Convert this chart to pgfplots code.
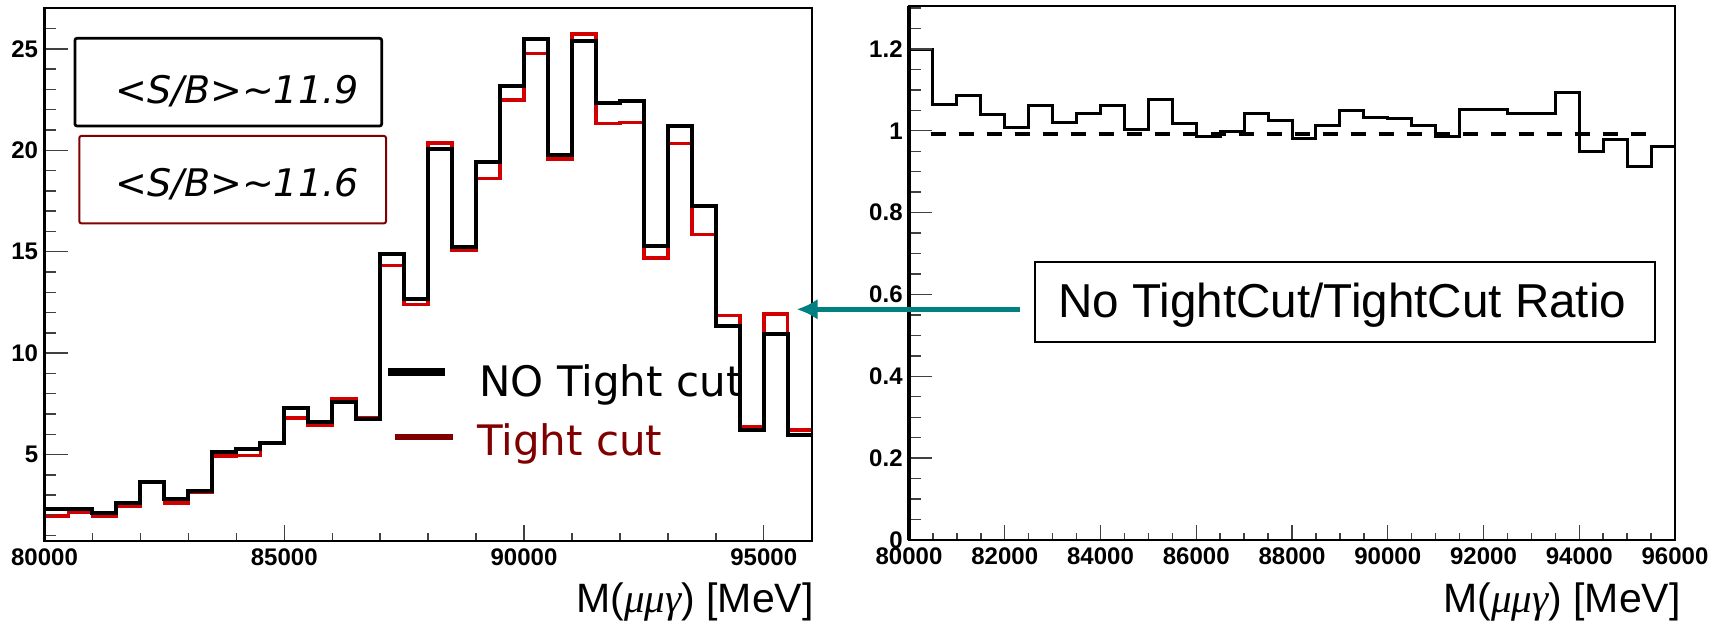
\documentclass[border=0pt]{standalone}
\usepackage{fontspec}
\setmainfont{Liberation Sans}
\newfontfamily\legfont{DejaVu Sans}
\newfontfamily\greekfont{Liberation Serif}
\usepackage{pgfplots}
\pgfplotsset{compat=1.18}
\usetikzlibrary{arrows.meta}
\definecolor{histred}{RGB}{210,0,0}
\definecolor{darkred}{RGB}{128,0,0}
\definecolor{tealarrow}{RGB}{0,128,128}

\pgfplotsset{
  rootaxis/.style={
    scale only axis, anchor=south west,
    xmin=80000, xmax=96000,
    scaled x ticks=false, scaled y ticks=false,
    tick pos=left, tick align=inside, axis on top,
    axis line style={line width=1.1pt},
    tick style={black!75, line width=0.7pt},
    major tick length=11.5pt, minor tick length=5.5pt,
    xtick style={/pgfplots/major tick length=8pt, /pgfplots/minor tick length=4pt},
    tick label style={font=\bfseries\fontsize{12}{13}\selectfont},
    xticklabel style={anchor=north, inner sep=0pt, yshift=-3.5pt},
    yticklabel style={anchor=east, inner sep=0pt, xshift=-3pt},
  }
}

\begin{document}
\begin{tikzpicture}
\path[use as bounding box] (0,0) rectangle (860.5pt,313pt);

% ---------------- left: mass histograms ----------------
\begin{axis}[rootaxis, name=L,
  at={(22.25pt,42.5pt)}, width=383.6pt, height=266.55pt,
  ymin=0.74, ymax=27.02,
  xtick={80000,85000,90000,95000}, xticklabels={80000,85000,90000,95000},
  minor xtick={81000,82000,83000,84000,86000,87000,88000,89000,91000,92000,93000,94000},
  ytick={5,10,15,20,25}, yticklabels={5,10,15,20,25},
  minor ytick={1,2,3,4,6,7,8,9,11,12,13,14,16,17,18,19,21,22,23,24,26,27},
]
% Tight cut (red)
\addplot[const plot mark left, histred, line width=1.75pt] coordinates {
 (80000,1.97) (80500,2.18) (81000,1.97) (81500,2.45) (82000,3.64) (82500,2.62)
 (83000,3.12) (83500,4.93) (84000,4.96) (84500,5.55) (85000,6.81) (85500,6.46)
 (86000,7.75) (86500,6.81) (87000,14.33) (87500,12.41) (88000,20.36) (88500,15.08)
 (89000,18.60) (89500,22.48) (90000,24.76) (90500,19.57) (91000,25.73) (91500,21.33)
 (92000,21.37) (92500,14.68) (93000,20.33) (93500,15.84) (94000,11.85) (94500,6.37)
 (95000,11.92) (95500,6.20) (96000,6.20)};
% NO Tight cut (black)
\addplot[const plot mark left, black, line width=2pt] coordinates {
 (80000,2.32) (80500,2.32) (81000,2.11) (81500,2.59) (82000,3.64) (82500,2.82)
 (83000,3.22) (83500,5.14) (84000,5.28) (84500,5.55) (85000,7.32) (85500,6.60)
 (86000,7.60) (86500,6.74) (87000,14.87) (87500,12.69) (88000,20.05) (88500,15.23)
 (89000,19.43) (89500,23.18) (90000,25.47) (90500,19.75) (91000,25.38) (91500,22.35)
 (92000,22.42) (92500,15.26) (93000,21.21) (93500,17.27) (94000,11.32) (94500,6.20)
 (95000,10.95) (95500,5.97) (96000,5.97)};
\end{axis}

% ---------------- right: ratio ----------------
\begin{axis}[rootaxis, name=R,
  at={(454.5pt,43pt)}, width=383pt, height=267pt,
  ymin=0, ymax=1.305,
  xtick={80000,82000,84000,86000,88000,90000,92000,94000,96000},
  xticklabels={80000,82000,84000,86000,88000,90000,92000,94000,96000},
  minor xtick={80500,81000,81500,82500,83000,83500,84500,85000,85500,86500,87000,87500,88500,89000,89500,90500,91000,91500,92500,93000,93500,94500,95000,95500},
  ytick={0,0.2,0.4,0.6,0.8,1,1.2}, yticklabels={0,0.2,0.4,0.6,0.8,1,1.2},
  minor ytick={0.05,0.1,0.15,0.25,0.3,0.35,0.45,0.5,0.55,0.65,0.7,0.75,0.85,0.9,0.95,1.05,1.1,1.15,1.25,1.3},
  xtick style={/pgfplots/major tick length=7.5pt, /pgfplots/minor tick length=3.5pt},
  major tick length=11.5pt, minor tick length=6pt,
]
\addplot[black, line width=2pt, dash pattern=on 7.5pt off 6.5pt] coordinates {(80450,0.992) (95600,0.992)};
\addplot[const plot mark left, black, line width=1.5pt] coordinates {
 (80000,1.198) (80500,1.064) (81000,1.086) (81500,1.039) (82000,1.008) (82500,1.063)
 (83000,1.021) (83500,1.043) (84000,1.061) (84500,1.004) (85000,1.076) (85500,1.018)
 (86000,0.987) (86500,0.999) (87000,1.043) (87500,1.026) (88000,0.982) (88500,1.014)
 (89000,1.049) (89500,1.033) (90000,1.031) (90500,1.012) (91000,0.987) (91500,1.051)
 (92000,1.051) (92500,1.043) (93000,1.043) (93500,1.093) (94000,0.950) (94500,0.979)
 (95000,0.912) (95500,0.962) (96000,0.962)};
\end{axis}

% thicker left frame lines (ROOT style)
\draw[line width=1.65pt] (L.south west) -- (L.north west);
\draw[line width=1.65pt] (R.south west) -- (R.north west);

% axis titles
\node[anchor=base east, inner sep=0pt] at (407pt,6.5pt)
  {\fontsize{20.5}{22}\selectfont M({\greekfont\itshape μμγ}) [MeV]};
\node[anchor=base east, inner sep=0pt] at (840.5pt,6.5pt)
  {\fontsize{20.5}{22}\selectfont M({\greekfont\itshape μμγ}) [MeV]};

% S/B boxes
\draw[black, line width=1.35pt, rounded corners=1pt] (37.5pt,250pt) rectangle (190.85pt,293.85pt);
\node[anchor=base west, inner sep=0pt] at (57.5pt,261pt)
  {\legfont\itshape\fontsize{19}{21}\selectfont <S/B>\textasciitilde11.9};
\draw[darkred, line width=1pt, rounded corners=1pt] (39.65pt,201.35pt) rectangle (193pt,245pt);
\node[anchor=base west, inner sep=0pt] at (57.5pt,214.5pt)
  {\legfont\itshape\fontsize{19}{21}\selectfont <S/B>\textasciitilde11.6};

% legend
\draw[black, line width=3.85pt] (194pt,127.15pt) -- (222.5pt,127.15pt);
\node[anchor=base west, inner sep=0pt] at (239.5pt,114.8pt)
  {\legfont\fontsize{21}{23}\selectfont NO Tight cut};
\draw[darkred, line width=3pt] (197.5pt,94.5pt) -- (226.35pt,94.5pt);
\node[anchor=base west, inner sep=0pt, text=darkred] at (238.35pt,85pt)
  {\legfont\fontsize{21}{23}\selectfont Tight cut};

% arrow and ratio label
\draw[tealarrow, line width=2.5pt, -{Latex[length=10.5pt,width=10.5pt]}] (510pt,158.35pt) -- (398.35pt,158.35pt);
\draw[black, line width=1pt, fill=white] (517.5pt,142.15pt) rectangle (827.5pt,182.15pt);
\node[anchor=base west, inner sep=0pt] at (529pt,154pt)
  {\fontsize{23.8}{26}\selectfont No TightCut/TightCut Ratio};
\end{tikzpicture}
\end{document}
